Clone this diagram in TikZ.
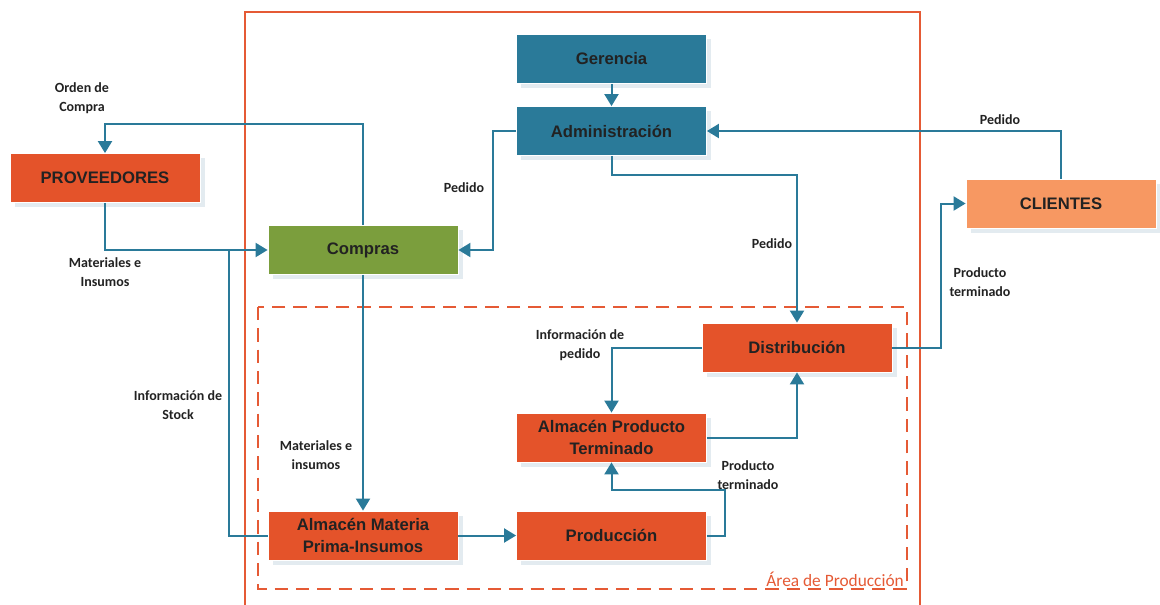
\documentclass[tikz,border=0pt]{standalone}
\usepackage{fontspec}
\usetikzlibrary{arrows.meta,calc,shadows}
\newfontfamily\boxfont{Liberation Sans}
\newfontfamily\lblfont{Carlito}
\definecolor{azul}{HTML}{2A7A99}
\definecolor{naranja}{HTML}{E4532A}
\definecolor{verde}{HTML}{7B9E3D}
\definecolor{salmon}{HTML}{F79862}
\definecolor{marco}{HTML}{E55A35}
\definecolor{sombra}{HTML}{E3EBF0}
\definecolor{tinta}{HTML}{222222}
\tikzset{
  caja/.style={draw=white, line width=0.6pt, minimum width=142.5pt, minimum height=36.75pt,
    inner sep=0pt, align=center, text=tinta,
    font=\boxfont\bfseries\fontsize{12.5}{16}\selectfont,
    drop shadow={shadow xshift=3.5pt, shadow yshift=-3.5pt, fill=sombra, opacity=1}},
  arr/.style={draw=azul, line width=1.5pt, -{Triangle[width=10.5pt,length=9pt]}},
  lin/.style={draw=azul, line width=1.5pt},
  etq/.style={align=center, text=tinta, inner sep=0pt,
    font=\lblfont\bfseries\fontsize{10.5}{14}\selectfont},
}
\begin{document}
\begin{tikzpicture}[x=0.75pt, y=-0.75pt]
\useasboundingbox (0,0) rectangle (1160,604);

% outer frame of the company
\draw[marco, line width=1.5pt] (245,606) -- (245,12) -- (920,12) -- (920,606);
% production area
\draw[marco, line width=1.5pt, dash pattern=on 10pt off 6pt] (258,307) rectangle (907,589);
\node[anchor=south east, inner sep=0pt, text=marco,
  font=\lblfont\upshape\mdseries\fontsize{13}{15}\selectfont]
  (area) at (904,587) {Área de Producción};

% boxes
\node[caja, fill=azul]    (ger)  at (611.5,59)    {Gerencia};
\node[caja, fill=azul]    (adm)  at (611.5,131)   {Administración};
\node[caja, fill=naranja] (prov) at (105,178)     {PROVEEDORES};
\node[caja, fill=verde]   (comp) at (363,250)     {Compras};
\node[caja, fill=salmon]  (cli)  at (1061,203.5)  {CLIENTES};
\node[caja, fill=naranja] (dist) at (797,347.5)   {Distribución};
\node[caja, fill=naranja] (apt)  at (611.5,437.5) {Almacén Producto\\Terminado};
\node[caja, fill=naranja] (amp)  at (363,535.5)   {Almacén Materia\\Prima-Insumos};
\node[caja, fill=naranja] (prod) at (611.5,535.5) {Producción};

% connectors
\coordinate (stk) at (229,250);
\draw[lin] (amp.west) -| (stk);
\draw[arr] (ger) -- (adm);
\draw[arr] (comp.north) -- (comp.north |- 0,124) -| (prov.north);
\draw[arr] (prov.south) |- (comp.west);
\draw[arr] (adm.west) -- ++(-23,0) |- (comp.east);
\draw[arr] (cli.north) |- (adm.east);
\draw[arr] (adm.south) -- ++(0,19) -| (dist.north);
\draw[arr] (dist.east) -- ++(49,0) |- (cli.west);
\draw[arr] (comp.south) -- (amp.north);
\draw[arr] (amp) -- (prod);
\draw[arr] (prod.east) -- ++(18,0) |- ($(apt.south)+(0,28)$) -- (apt.south);
\draw[arr] (apt.east) -| (dist.south);
\draw[arr] (dist.west) -| (apt.north);

% labels
\node[etq] (l1)  at (82,98)    {Orden de\\Compra};
\node[etq] (l2)  at (105,272)  {Materiales e\\Insumos};
\node[etq] (l3)  at (464,188)  {Pedido};
\node[etq] (l4)  at (1000,120) {Pedido};
\node[etq] (l5)  at (772,244)  {Pedido};
\node[etq] (l6)  at (980,282)  {Producto\\terminado};
\node[etq] (l7)  at (178,405)  {Información de\\Stock};
\node[etq] (l8)  at (316,455)  {Materiales e\\insumos};
\node[etq] (l9)  at (580,345)  {Información de\\pedido};
\node[etq] (l10) at (748,475)  {Producto\\terminado};
\end{tikzpicture}
\end{document}
